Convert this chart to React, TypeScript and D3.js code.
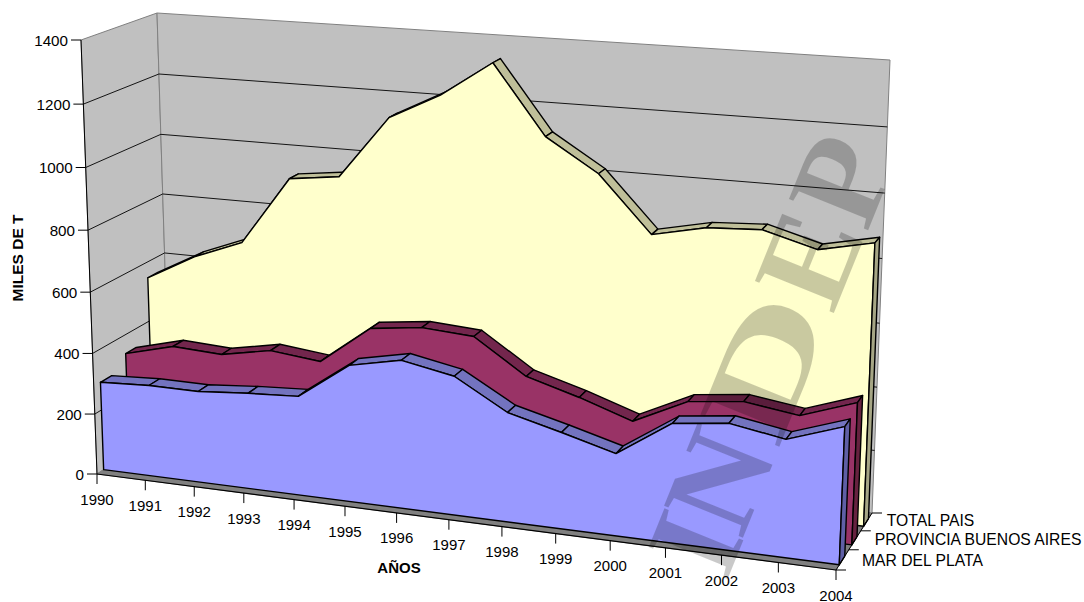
import React from "react";
import * as d3 from "d3";

const years = [1990,1991,1992,1993,1994,1995,1996,1997,1998,1999,2000,2001,2002,2003,2004];
const marDelPlata = [292,300,299,312,321,439,473,441,346,303,257,370,390,361,419];
const provinciaBA = [337,379,370,401,383,508,528,517,408,360,304,385,404,380,439];
const totalPais = [547,633,696,920,940,1142,1225,1337,1120,1018,843,879,888,842,878];
const valueTicks = [0,200,400,600,800,1000,1200,1400];
const seriesNames = ["MAR DEL PLATA","PROVINCIA BUENOS AIRES","TOTAL PAIS"];
const seriesFront = ["#9999FF","#993366","#FFFFCC"];
const seriesTop = ["#7373BF","#73264D","#BFBF99"];
const seriesEnd = ["#5F5FA6","#66223F","#A6A685"];
const stampLetters = ["I","N","D","E","P"];
const stampOrigins = [[726,583],[742,540],[778,450],[833,315],[867,233]];
const stampStretch = [1,1,1.55,1,1];

const W = 1084, H = 602;

// Box corners on screen: [front/back][left/right], bottom and top
const BOX = {
  fl0: [97,474], fr0: [836,570], bl0: [170,426], br0: [872,513],
  fl1: [81,40], fr1: [855,93], bl1: [157,13], br1: [890,60],
};

const tScale = d3.scaleLinear().domain([1990,2004]).range([0,1]);
const vScale = d3.scaleLinear().domain([0,1400]).range([0,1]);
const zScale = d3.scaleLinear().domain([0,3]).range([0,1]);
const warpT = (t:number)=>t/(1.1-0.1*t);
const warpV = (v:number)=>v/(1.04-0.04*v);
const warpZ = (z:number)=>1.1*z/(1+0.1*z);

const lerp = (a:number[],b:number[],k:number)=>[a[0]+(b[0]-a[0])*k,a[1]+(b[1]-a[1])*k];
function project(year:number,value:number,band:number):[number,number]{
  const f=warpT(tScale(year)), g=warpV(vScale(value)), h=warpZ(zScale(band));
  const bot=lerp(lerp(BOX.fl0,BOX.fr0,f),lerp(BOX.bl0,BOX.br0,f),h);
  const top=lerp(lerp(BOX.fl1,BOX.fr1,f),lerp(BOX.bl1,BOX.br1,f),h);
  const p=lerp(bot,top,g);
  return [p[0],p[1]];
}
const path=(pts:[number,number][])=>d3.line()(pts)+"Z";
const Y0=years[0], Y1=years[years.length-1];
const FRONT=0.25, BACK=0.68;
const font="'Liberation Sans', Arial, sans-serif";

function Series({i,values}:{i:number,values:number[]}){
  const z0=i+FRONT, z1=i+BACK;
  const n=years.length;
  const front:[number,number][]=[project(Y0,0,z0),...years.map((y,k)=>project(y,values[k],z0)),project(Y1,0,z0)];
  const stroke={stroke:"#000",strokeWidth:1.4,strokeLinejoin:"round" as const};
  return <g>
    {years.slice(0,n-1).map((y,k)=>
      <path key={y} d={path([project(y,values[k],z0),project(years[k+1],values[k+1],z0),project(years[k+1],values[k+1],z1),project(y,values[k],z1)])} fill={seriesTop[i]} {...stroke}/>
    )}
    <path d={path(front)} fill={seriesFront[i]} {...stroke}/>
    <path d={path([project(Y1,0,z0),project(Y1,0,z1),project(Y1,values[n-1],z1),project(Y1,values[n-1],z0)])} fill={seriesEnd[i]} {...stroke}/>
  </g>;
}

export default function App(){
  const vals=[marDelPlata,provinciaBA,totalPais];
  return <svg width={W} height={H} viewBox={`0 0 ${W} ${H}`} style={{position:"absolute",left:0,top:0,background:"#fff"}}>
    {/* walls */}
    <path d={path([project(Y0,0,0),project(Y0,1400,0),project(Y0,1400,3),project(Y0,0,3)])} fill="#C0C0C0" stroke="#808080" strokeWidth={1}/>
    <path d={path([project(Y0,0,3),project(Y0,1400,3),project(Y1,1400,3),project(Y1,0,3)])} fill="#C0C0C0" stroke="#808080" strokeWidth={1}/>
    <path d={path([project(Y0,0,0),project(Y0,0,3),project(Y1,0,3),project(Y1,0,0)])} fill="#808080" stroke="#808080" strokeWidth={1}/>
    {/* gridlines */}
    {valueTicks.filter(v=>v>0&&v<1400).map(v=>{
      const a=project(Y0,v,0),b=project(Y0,v,3),c=project(Y1,v,3);
      return <polyline key={v} points={[a,b,c].map(p=>p.join(",")).join(" ")} fill="none" stroke="#000" strokeWidth={0.9}/>;
    })}
    {[2,1,0].map(i=><Series key={i} i={i} values={vals[i]}/>)}
    {/* axes */}
    <line x1={project(Y0,0,0)[0]} y1={project(Y0,0,0)[1]} x2={project(Y0,1400,0)[0]} y2={project(Y0,1400,0)[1]} stroke="#000" strokeWidth={1}/>
    <line x1={project(Y0,0,0)[0]} y1={project(Y0,0,0)[1]} x2={project(Y1,0,0)[0]} y2={project(Y1,0,0)[1]} stroke="#000" strokeWidth={1.2}/>
    <line x1={project(Y1,0,0)[0]} y1={project(Y1,0,0)[1]} x2={project(Y1,0,3)[0]} y2={project(Y1,0,3)[1]} stroke="#000" strokeWidth={1}/>
    {valueTicks.map(v=>{
      const [x,y]=project(Y0,v,0);
      return <g key={v}>
        <line x1={x-10} x2={x} y1={y} y2={y} stroke="#000" strokeWidth={1}/>
        <text x={x-13} y={y} textAnchor="end" dominantBaseline="central" fontFamily={font} fontSize={15.2} fill="#000">{v}</text>
      </g>;
    })}
    {years.map(yr=>{
      const [x,y]=project(yr,0,0);
      return <g key={yr}>
        <line x1={x} x2={x} y1={y} y2={y+10} stroke="#000" strokeWidth={1}/>
        <text x={x} y={y+25} textAnchor="middle" dominantBaseline="central" fontFamily={font} fontSize={15} fill="#000">{yr}</text>
      </g>;
    })}
    {[0,1,2,3].map(b=>{
      const [x,y]=project(Y1,0,b);
      return <line key={b} x1={x} x2={x+10} y1={y} y2={y} stroke="#000" strokeWidth={1}/>;
    })}
    {seriesNames.map((s,i)=>{
      const [x,y]=project(Y1,0,i);
      return <text key={s} x={x+26} y={y-10} dominantBaseline="central" fontFamily={font} fontSize={15.7} fill="#000">{s}</text>;
    })}
    <text transform="translate(17,258) rotate(-90)" textAnchor="middle" dominantBaseline="central" fontFamily={font} fontWeight="bold" fontSize={15.5} fill="#000">MILES DE T</text>
    <text x={399} y={567} textAnchor="middle" dominantBaseline="central" fontFamily={font} fontWeight="bold" fontSize={15} fill="#000">AÑOS</text>
    {/* watermark */}
    {stampLetters.map((c,i)=>
      <text key={c} transform={`translate(${stampOrigins[i][0]},${stampOrigins[i][1]}) rotate(-68) scale(${stampStretch[i]},1)`} fontFamily="'Liberation Serif', serif" fontWeight="bold" fontSize={130} fill="#000" fillOpacity={0.21}>{c}</text>
    )}
  </svg>;
}
